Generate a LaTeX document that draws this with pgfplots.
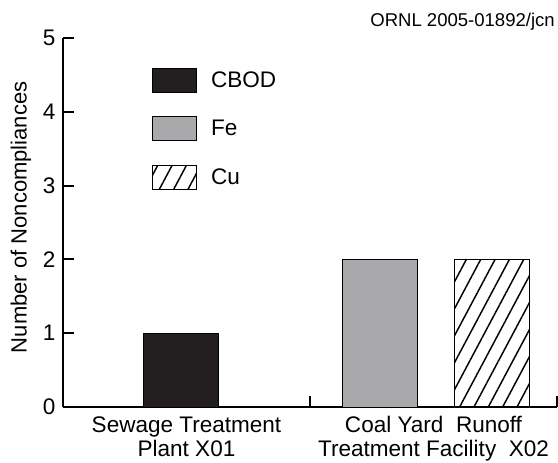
\documentclass[border=0pt]{standalone}
\usepackage{pgfplots}
\pgfplotsset{compat=1.18}
\usepackage{fontspec}
\setmainfont{Liberation Sans}
\usetikzlibrary{patterns.meta}
\definecolor{cbod}{HTML}{231F20}
\definecolor{fe}{HTML}{A9A9AB}
\pgfplotsset{myleg/.style={legend image code/.code={\draw[##1,line width=0.75pt] (0pt,-9pt) rectangle (33pt,9pt);}}}
\begin{document}
\begin{tikzpicture}
\useasboundingbox (-47.25pt,-41.25pt) rectangle (371.25pt,305.25pt);
\begin{axis}[
  at={(0,0)}, anchor=south west,
  scale only axis, width=370.5pt, height=276.75pt,
  xmin=0, xmax=2, ymin=0, ymax=5,
  axis x line=bottom, axis y line=left,
  axis line style={-, line width=1.5pt},
  tick align=inside,
  every tick/.style={black, line width=1.5pt},
  major tick length=8.5pt,
  ytick={0,1,2,3,4,5},
  xtick={1,2}, xticklabels={},
  extra x ticks={0.5,1.5},
  extra x tick labels={Sewage Treatment\\Plant X01, Coal Yard\ \ Runoff\\Treatment Facility\ \ X02},
  extra x tick style={major tick length=0pt, xticklabel style={align=center}},
  xticklabel style={font=\fontsize{16.9}{18}\selectfont, inner sep=0pt, yshift=-7pt},
  yticklabel style={font=\fontsize{16.9}{18}\selectfont, inner sep=0pt, xshift=-5.5pt},
  /pgf/number format/assume math mode=true,
  ylabel={Number of Noncompliances},
  ylabel style={font=\fontsize{16.5}{18}\selectfont, at={(axis description cs:-0.085,0.514)}, anchor=center, rotate=0},
  legend style={draw=none, fill=none, inner sep=0pt, outer sep=0pt,
    at={(axis description cs:0.1802,0.9187)}, anchor=north west,
    font=\fontsize{16.9}{18}\selectfont, row sep=17.6pt, column sep=10.5pt,
    nodes={inner sep=0pt, anchor=west}},
  legend cell align=left,
  clip=false,
]
\addplot[ybar, myleg, bar width=56.25pt, draw=black, line width=0.75pt, fill=cbod] coordinates {(0.476,1)};
\addlegendentry{CBOD}
\addplot[ybar, myleg, bar width=56.25pt, draw=black, line width=0.75pt, fill=fe] coordinates {(1.285,2)};
\addlegendentry{Fe}
\addplot[ybar, myleg, bar width=56.25pt, draw=black, line width=0.75pt, pattern={Lines[angle=62, distance=9.5pt, line width=1.1pt]}] coordinates {(1.735,2)};
\addlegendentry{Cu}
\node[anchor=base east, inner sep=0pt, font=\fontsize{13.9}{16}\selectfont] at (axis description cs:0.996,1.030) {ORNL 2005-01892/jcn};
\end{axis}
\end{tikzpicture}
\end{document}
